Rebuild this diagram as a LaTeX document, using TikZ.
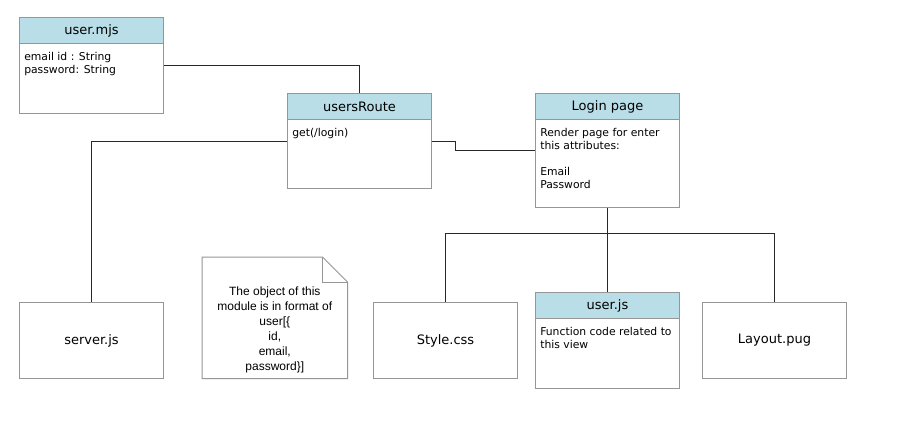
\documentclass[tikz,border=0pt]{standalone}
\usepackage{fontspec}
\setmainfont{DejaVu Sans}
\newfontfamily\notefont{Liberation Sans}
\definecolor{hdrblue}{RGB}{185,222,232}
\definecolor{boxgray}{RGB}{150,150,150}
\definecolor{linegray}{RGB}{40,40,40}
\tikzset{
  box/.style={draw=boxgray, line width=0.75pt, fill=white, anchor=north west, inner sep=0pt, minimum width=108pt},
  hdr/.style={draw=boxgray, line width=0.75pt, fill=hdrblue, anchor=north, inner sep=0pt, minimum width=108pt, minimum height=19.5pt, font=\fontsize{9.75}{11}\selectfont},
  body/.style={anchor=north west, inner sep=0pt, align=left, font=\fontsize{8.1}{9.75}\selectfont},
  plain/.style={box, minimum height=57pt, font=\fontsize{9.75}{11}\selectfont},
  conn/.style={draw=linegray, line width=0.75pt},
}
\begin{document}
\begin{tikzpicture}[x=0.75pt, y=-0.75pt]
\useasboundingbox[fill=white] (0,0) rectangle (917,430);

% user.mjs
\node[box, minimum height=72pt] (mjs) at (19,17) {};
\node[hdr] (mjsh) at (mjs.north) {user.mjs};
\node[body] (mjsb) at ([xshift=3.75pt, yshift=-26.5pt]mjs.north west) {email id : String\\password: String};

% usersRoute
\node[box, minimum height=71.25pt] (ur) at (287,93) {};
\node[hdr] (urh) at (ur.north) {usersRoute};
\node[body] (urb) at ([xshift=3.75pt, yshift=-26.5pt]ur.north west) {get(/login)};

% Login page
\node[box, minimum height=85.5pt] (lp) at (535,93) {};
\node[hdr] (lph) at (lp.north) {Login page};
\node[body] (lpb) at ([xshift=3.75pt, yshift=-26.5pt]lp.north west) {Render page for enter\\this attributes:\\[9.75pt]Email\\Password};

% server.js
\node[plain] (srv) at (19,302) {server.js};

% note
\node[anchor=north west, inner sep=0pt, minimum width=108.75pt, minimum height=90.75pt] (note) at (202,257) {};
\draw[draw=boxgray, line width=0.75pt, fill=white] (note.north west) -- ([xshift=-18.75pt]note.north east) -- ([yshift=-18.75pt]note.north east) -- (note.south east) -- (note.south west) -- cycle;
\draw[draw=boxgray, line width=0.75pt] ([xshift=-18.75pt]note.north east) -- ([xshift=-18.75pt, yshift=-18.75pt]note.north east) -- ([yshift=-18.75pt]note.north east);
\node[align=center, inner sep=0pt, font=\notefont\fontsize{9}{11.25}\selectfont] (notet) at ([yshift=-9pt]note.center) {The object of this\\module is in format of\\user[\{\\id,\\email,\\password\}]};

% Style.css
\node[plain] (css) at (373,302) {Style.css};

% user.js
\node[box, minimum height=72pt] (ujs) at (535,292) {};
\node[hdr] (ujsh) at (ujs.north) {user.js};
\node[body] (ujsb) at ([xshift=3.75pt, yshift=-26.5pt]ujs.north west) {Function code related to\\this view};

% Layout.pug
\node[plain] (lay) at (702,302) {Layout.pug};

% connectors
\draw[conn] (mjs.east) -| (urh.north);
\draw[conn] (ur.west) -| (srv.north);
\draw[conn] (ur.east) -- ++(23,0) |- (lp.west);
\draw[conn] (lp.south) -- ++(0,25) coordinate (split);
\draw[conn] (split) -| (css.north);
\draw[conn] (split) -| (lay.north);
\draw[conn] (split) -- (split |- ujsh.north);
\end{tikzpicture}
\end{document}
